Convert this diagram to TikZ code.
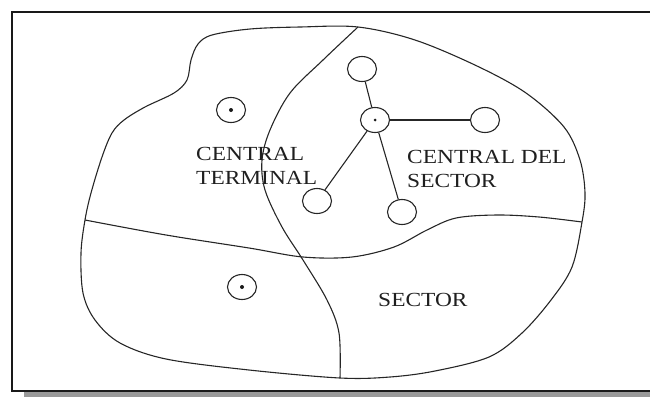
\documentclass[tikz,border=0pt]{standalone}
\usepackage{fontspec}
\setmainfont{Liberation Serif}
\usetikzlibrary{shapes.geometric}
\tikzset{
  outline/.style={line width=1.1pt, draw=black!85},
  station/.style={ellipse, draw=black!85, line width=1.1pt, minimum width=29pt, minimum height=25pt, inner sep=0pt, fill=white},
  link/.style={line width=1.1pt, draw=black!85},
  lbl/.style={anchor=north west, inner sep=0pt, align=left, text=black!88, xscale=1.17, font=\fontsize{20}{24}\selectfont},
  dotc/.style={fill=black!90}
}
\begin{document}
\begin{tikzpicture}[x=1pt, y=-1pt]
\useasboundingbox (0,0) rectangle (650,397);
% frame with shadow
\fill[gray!80] (24,392) rectangle (650,397);
\draw[line width=1.3pt, black!90] (650,12) -- (12,12) -- (12,391) -- (650,391);
% outer region
\draw[outline] plot[smooth cycle, tension=0.55] coordinates {
 (358,27) (415,40) (477,66) (526,93) (564,127) (580,160) (585,193) (582,222)
 (572,267) (551,300) (522,333) (489,357) (435,371) (390,377) (340,378)
 (249,370) (166,359) (120,343) (95,320) (83,293) (81,253) (85,220)
 (91,193) (102,157) (112,133) (124,120) (145,107) (174,93) (187,80)
 (191,60) (198,44) (212,35) (250,29) (300,27)};
% vertical divider
\draw[outline] plot[smooth, tension=0.55] coordinates {
 (358,27) (323,60) (290,93) (270,130) (262,160) (265,190) (282,227)
 (303,260) (327,300) (339,333) (340,378)};
% horizontal divider
\draw[outline] plot[smooth, tension=0.55] coordinates {
 (85,220) (166,235) (249,248) (303,257) (352,257) (394,247) (427,230)
 (456,218) (497,215) (539,217) (582,222)};
% stations
\node[station] (tl) at (231,110) {};
\node[station] (top) at (362,69) {};
\node[station] (ctr) at (375,120) {};
\node[station] (rt) at (485,120) {};
\node[station] (ll) at (317,201) {};
\node[station] (lr) at (402,212) {};
\node[station] (bl) at (242,287) {};
\fill[dotc] (tl.center) circle (2pt);
\fill[dotc] (ctr.center) circle (1.5pt);
\fill[dotc] (bl.center) circle (2pt);
% links
\draw[link] (ctr) -- (top);
\draw[link] (ctr) -- (rt);
\draw[link] (ctr) -- (ll);
\draw[link] (ctr) -- (lr);
% labels
\node[lbl] (t1) at (196,147) {CENTRAL\\TERMINAL};
\node[lbl] (t2) at (407,150) {CENTRAL DEL\\SECTOR};
\node[lbl] (t3) at (378,293) {SECTOR};
\end{tikzpicture}
\end{document}
